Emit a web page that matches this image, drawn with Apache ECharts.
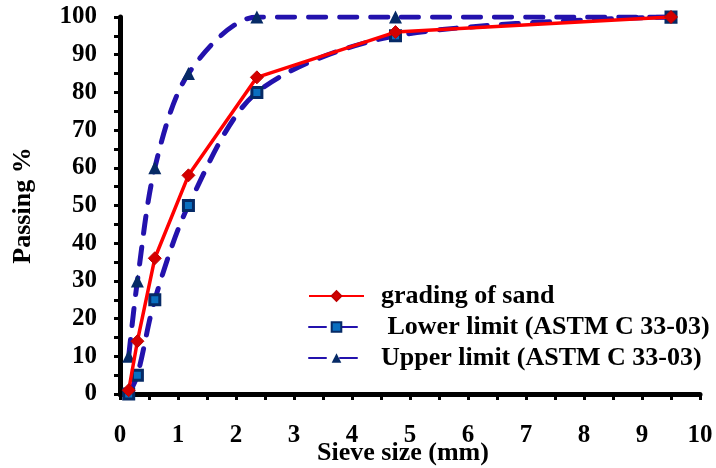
<!DOCTYPE html>
<html>
<head>
<meta charset="utf-8">
<script src="https://cdn.jsdelivr.net/npm/echarts@6/dist/echarts.min.js"></script>
<style>
  html, body { margin: 0; padding: 0; background: #fff; }
  #main { width: 716px; height: 468px; }
</style>
</head>
<body>
<div id="main"></div>
<script>
// sieve sizes (mm) and passing %
var sieveSizes = [0.15, 0.3, 0.6, 1.18, 2.36, 4.75, 9.5];
var sandPassing = [1, 14, 36, 58, 84, 96, 100];
var lowerLimit = [0, 5, 25, 50, 80, 95, 100];
var upperLimit = [10, 30, 60, 85, 100, 100, 100];
var seriesNames = ['grading of sand', ' Lower limit (ASTM C 33-03)', 'Upper limit (ASTM C 33-03)'];

function pairs(vals) {
  return sieveSizes.map(function (x, i) { return [x, vals[i]]; });
}

var font = '"Liberation Serif", "Times New Roman", serif';
var dashBlue = '#2312ad';
var boldText = { fontFamily: font, fontWeight: 'bold', fontSize: 25, color: '#000' };

var chart = echarts.init(document.getElementById('main'));
chart.setOption({
  animation: false,
  textStyle: { fontFamily: font },
  grid: { left: 120, right: 16, top: 17, bottom: 74, outerBoundsMode: 'none', containLabel: false },
  legend: {
    orient: 'vertical',
    left: 303,
    top: 278,
    itemWidth: 55,
    itemHeight: 12,
    itemGap: 5,
    textStyle: { fontFamily: font, fontWeight: 'bold', fontSize: 26, color: '#000', padding: [0, 0, 0, 12] },
    data: seriesNames
  },
  xAxis: {
    type: 'value',
    min: 0, max: 10, interval: 1,
    name: 'Sieve size (mm)',
    nameLocation: 'middle',
    nameGap: 46,
    nameMoveOverlap: false,
    nameTextStyle: { fontFamily: font, fontWeight: 'bold', fontSize: 26, color: '#000', padding: [0, 14, 0, 0] },
    axisLine: { lineStyle: { color: '#000', width: 5 } },
    axisTick: { show: true, length: 6, lineStyle: { color: '#000', width: 3 } },
    minorTick: { show: true, splitNumber: 2, length: 6, lineStyle: { color: '#000', width: 3 } },
    splitLine: { show: false },
    axisLabel: Object.assign({ margin: 29 }, boldText)
  },
  yAxis: {
    type: 'value',
    min: 0, max: 100, interval: 10,
    name: 'Passing %',
    nameLocation: 'middle',
    nameGap: 84,
    nameMoveOverlap: false,
    nameTextStyle: { fontFamily: font, fontWeight: 'bold', fontSize: 26, color: '#000' },
    axisLine: { lineStyle: { color: '#000', width: 5 } },
    axisTick: { show: true, length: 6, lineStyle: { color: '#000', width: 3 } },
    minorTick: { show: true, splitNumber: 2, length: 6, lineStyle: { color: '#000', width: 3 } },
    splitLine: { show: false },
    axisLabel: Object.assign({ margin: 23 }, boldText)
  },
  series: [
    {
      name: seriesNames[0],
      type: 'line',
      data: pairs(sandPassing),
      z: 4,
      lineStyle: { color: '#ff0000', width: 3.5 },
      symbol: 'diamond',
      symbolSize: 13,
      itemStyle: { color: '#d40000', borderColor: '#c00000', borderWidth: 1 }
    },
    {
      name: seriesNames[1],
      type: 'line',
      data: pairs(lowerLimit),
      smooth: 0.3,
      z: 3,
      lineStyle: { color: dashBlue, width: 5, type: [17, 14], cap: 'round' },
      symbol: 'rect',
      symbolSize: 10,
      itemStyle: { color: '#0a6fc0', borderColor: '#062a66', borderWidth: 3 }
    },
    {
      name: seriesNames[2],
      type: 'line',
      data: pairs(upperLimit),
      smooth: 0.3,
      z: 3,
      lineStyle: { color: dashBlue, width: 5, type: [17, 14], cap: 'round' },
      symbol: 'triangle',
      symbolSize: 13,
      itemStyle: { color: '#062a66' }
    }
  ]
});
</script>
</body>
</html>
